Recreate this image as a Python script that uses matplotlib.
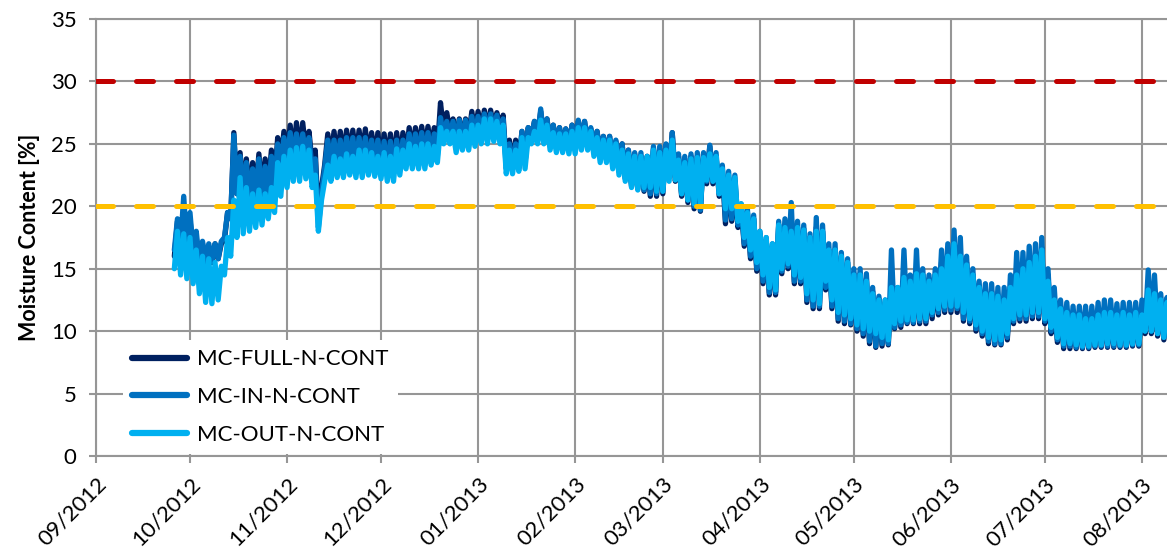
import pandas as pd
import matplotlib
matplotlib.use("Agg")
import matplotlib.pyplot as plt
import matplotlib.dates as mdates

plt.rcParams["font.family"] = ["Lato", "DejaVu Sans"]

# daily moisture content readings [%] (alternating night low / day high), from 26 Sep 2012
sample_start = "2012-09-26"

mc_full = [
    16.0, 18.8, 16.5, 20.0, 16.3, 19.0, 16.0, 17.5, 15.3, 17.0,
    15.3, 16.8, 15.5, 17.0, 15.8, 17.0, 17.3, 19.5, 19.0, 25.9,
    21.0, 24.3, 21.0, 23.8, 20.8, 23.5, 21.0, 24.2, 21.0, 23.8,
    21.5, 24.5, 22.0, 25.5, 23.5, 26.0, 24.0, 26.5, 24.0, 26.7,
    24.0, 26.7, 24.3, 26.0, 23.5, 24.5, 19.0, 21.5, 23.3, 25.8,
    23.8, 26.0, 23.8, 26.0, 23.8, 26.1, 24.0, 26.1, 23.8, 26.1,
    24.0, 26.2, 23.8, 25.9, 23.8, 25.9, 23.5, 25.8, 23.5, 25.8,
    23.3, 25.9, 23.5, 25.9, 24.0, 26.3, 24.3, 26.3, 24.5, 26.4,
    24.5, 26.4, 24.5, 26.3, 24.5, 28.3, 26.0, 27.5, 26.0, 27.0,
    25.3, 27.0, 25.3, 27.0, 25.5, 27.6, 25.8, 27.6, 26.0, 27.7,
    26.0, 27.7, 26.3, 27.5, 26.3, 27.3, 23.3, 25.3, 23.3, 25.3,
    23.3, 26.0, 23.5, 26.3, 25.5, 26.8, 25.5, 27.6, 25.3, 27.0,
    25.0, 26.5, 24.8, 26.3, 24.8, 26.2, 24.6, 26.5, 24.6, 26.8,
    25.0, 26.8, 25.0, 26.2, 24.5, 26.0, 24.0, 25.6, 24.0, 25.6,
    23.3, 25.2, 22.8, 25.0, 22.2, 24.5, 21.6, 24.2, 21.4, 24.0,
    21.2, 24.0, 20.8, 24.6, 20.8, 24.6, 21.0, 24.8, 22.3, 25.9,
    22.0, 24.0, 20.8, 23.8, 20.3, 24.0, 19.8, 24.0, 19.6, 24.2,
    21.8, 24.8, 21.8, 24.0, 20.8, 23.0, 18.6, 22.3, 18.8, 22.0,
    18.3, 20.0, 16.8, 19.5, 15.8, 19.0, 14.8, 17.8, 13.8, 17.3,
    12.9, 16.8, 12.9, 18.5, 14.6, 18.5, 15.0, 18.5, 13.8, 18.3,
    13.8, 18.2, 12.3, 17.5, 11.8, 18.3, 11.8, 18.0, 13.3, 16.5,
    11.8, 16.5, 10.8, 16.0, 10.6, 15.5, 10.5, 14.6, 10.0, 14.6,
    9.6, 14.2, 9.0, 13.2, 8.7, 12.6, 8.8, 12.3, 8.9, 13.8,
    10.2, 13.3, 10.3, 14.5, 10.6, 14.0, 10.6, 14.8, 10.6, 14.5,
    10.6, 14.2, 11.0, 14.5, 11.3, 15.5, 11.5, 16.2, 11.5, 16.5,
    11.5, 16.3, 10.8, 15.5, 10.6, 14.5, 10.0, 13.5, 9.6, 13.2,
    9.0, 13.2, 8.9, 12.8, 8.9, 12.7, 9.3, 13.5, 10.6, 14.7,
    10.8, 15.0, 10.8, 15.7, 11.0, 16.0, 11.0, 16.7, 10.6, 14.5,
    9.8, 12.7, 9.1, 12.0, 8.6, 11.7, 8.6, 11.5, 8.6, 11.5,
    8.6, 11.2, 8.6, 11.2, 8.7, 11.7, 8.7, 11.7, 8.7, 11.7,
    8.7, 11.5, 8.7, 11.7, 8.7, 11.7, 8.8, 11.5, 8.8, 11.5,
    9.8, 13.5, 9.8, 13.3, 9.6, 12.5, 9.3, 12.4, 9.2, 12.2,
]

mc_in = [
    16.5, 19.0, 17.0, 20.8, 16.8, 19.5, 16.5, 18.0, 15.5, 17.2,
    15.5, 17.0, 15.6, 17.0, 15.8, 17.2, 17.5, 19.5, 19.0, 25.7,
    21.0, 24.0, 21.0, 23.5, 20.5, 23.0, 20.8, 23.8, 20.5, 23.2,
    21.0, 24.0, 21.5, 25.0, 23.0, 25.5, 23.5, 25.9, 23.7, 25.8,
    23.7, 25.8, 24.0, 25.5, 23.0, 23.8, 18.3, 21.0, 23.0, 25.3,
    23.3, 25.3, 23.3, 25.3, 23.3, 25.5, 23.5, 25.5, 23.3, 25.5,
    23.5, 25.5, 23.3, 25.3, 23.3, 25.3, 23.0, 25.2, 23.0, 25.2,
    22.8, 25.3, 23.0, 25.3, 23.5, 25.8, 23.8, 25.8, 24.0, 25.9,
    24.0, 25.9, 24.0, 25.8, 24.0, 27.1, 25.5, 26.8, 25.5, 26.8,
    25.0, 26.9, 25.0, 26.9, 25.2, 27.2, 25.5, 27.2, 25.7, 27.4,
    25.7, 27.4, 26.0, 27.3, 26.0, 27.0, 23.0, 25.0, 23.0, 25.0,
    23.0, 26.0, 23.5, 26.3, 25.5, 26.8, 25.5, 27.8, 25.3, 27.0,
    25.0, 26.5, 24.8, 26.3, 24.8, 26.2, 24.6, 26.5, 24.6, 26.9,
    25.0, 26.8, 25.0, 26.3, 24.5, 26.0, 24.0, 25.6, 24.0, 25.6,
    23.5, 25.3, 23.0, 25.0, 22.3, 24.5, 21.8, 24.3, 21.6, 24.3,
    21.3, 24.0, 21.0, 24.8, 21.0, 24.8, 21.2, 25.0, 22.5, 25.9,
    22.3, 24.2, 21.0, 24.0, 20.5, 24.2, 20.0, 24.3, 19.7, 24.3,
    22.0, 24.9, 22.0, 24.3, 21.0, 23.3, 18.9, 22.8, 19.0, 22.5,
    18.5, 20.2, 17.0, 19.8, 16.0, 19.3, 15.0, 18.0, 14.0, 17.5,
    13.1, 17.0, 13.1, 18.8, 14.8, 19.0, 15.2, 20.3, 14.0, 18.8,
    14.0, 18.5, 12.5, 17.8, 12.0, 19.1, 12.0, 18.5, 13.5, 17.0,
    12.0, 17.0, 11.0, 16.3, 10.8, 15.8, 10.6, 15.0, 10.2, 15.0,
    9.8, 14.6, 9.2, 13.5, 8.8, 12.8, 9.0, 12.5, 9.0, 16.5,
    10.3, 13.5, 10.5, 16.5, 10.7, 14.5, 10.7, 16.5, 10.8, 15.0,
    10.8, 14.5, 11.3, 15.0, 11.5, 16.5, 11.7, 17.0, 11.7, 18.1,
    11.8, 17.5, 11.0, 16.0, 10.8, 15.0, 10.2, 14.0, 9.8, 13.8,
    9.2, 13.8, 9.0, 13.5, 9.0, 13.5, 9.5, 14.5, 10.8, 16.3,
    11.0, 16.3, 11.0, 16.8, 11.2, 17.0, 11.2, 17.5, 10.8, 15.0,
    10.0, 13.5, 9.3, 12.5, 8.8, 12.3, 8.8, 12.0, 8.7, 12.0,
    8.7, 12.0, 8.7, 12.0, 8.8, 12.3, 8.8, 12.5, 8.8, 12.5,
    8.8, 12.2, 8.8, 12.3, 8.8, 12.3, 8.9, 12.3, 8.9, 12.5,
    10.0, 14.9, 10.0, 14.5, 9.8, 13.0, 9.5, 12.7, 9.3, 12.5,
]

mc_out = [
    15.0, 18.0, 14.5, 17.8, 14.2, 17.5, 13.8, 16.5, 13.0, 16.0,
    12.3, 15.8, 12.2, 15.5, 12.5, 15.2, 14.5, 17.5, 16.0, 20.5,
    17.5, 22.3, 17.8, 21.5, 18.0, 21.0, 18.3, 21.3, 18.5, 21.0,
    19.0, 21.5, 19.5, 23.5, 20.8, 24.0, 21.5, 24.5, 22.0, 24.7,
    22.0, 24.8, 22.2, 24.5, 21.5, 22.5, 18.0, 20.5, 22.0, 23.3,
    22.0, 24.0, 22.3, 23.8, 22.3, 24.2, 22.5, 24.0, 22.3, 24.5,
    22.3, 24.5, 22.5, 24.3, 22.4, 24.0, 22.2, 24.3, 22.0, 24.0,
    22.0, 24.6, 22.5, 24.5, 23.0, 25.0, 23.0, 24.8, 23.0, 25.0,
    23.0, 25.0, 23.3, 24.8, 23.5, 26.3, 25.0, 26.0, 25.0, 26.0,
    24.3, 26.0, 24.5, 26.0, 24.5, 26.5, 24.8, 26.5, 25.0, 27.0,
    25.0, 27.0, 25.2, 26.8, 25.0, 26.5, 22.6, 24.5, 22.6, 24.5,
    22.8, 25.5, 23.0, 25.5, 25.0, 26.0, 25.0, 26.9, 25.0, 26.5,
    24.5, 25.9, 24.3, 25.8, 24.3, 25.8, 24.2, 26.0, 24.2, 26.3,
    24.5, 26.3, 24.5, 26.0, 24.0, 25.5, 23.5, 25.3, 23.5, 25.3,
    23.0, 25.0, 22.5, 24.5, 22.0, 24.2, 21.5, 24.0, 21.3, 24.0,
    21.5, 24.0, 21.5, 24.5, 21.2, 24.3, 21.2, 24.5, 22.0, 25.3,
    22.1, 23.7, 21.0, 23.5, 20.5, 23.8, 20.2, 23.9, 20.0, 23.9,
    22.1, 24.2, 22.0, 24.0, 21.0, 23.0, 19.8, 22.5, 19.8, 22.3,
    18.8, 20.2, 17.5, 19.5, 16.5, 19.0, 15.5, 18.0, 14.5, 17.5,
    13.5, 17.0, 13.3, 18.5, 15.0, 18.3, 15.4, 18.0, 14.5, 18.3,
    14.3, 18.1, 13.0, 17.5, 12.5, 18.0, 12.2, 18.0, 14.0, 16.5,
    12.5, 16.5, 11.5, 16.0, 11.3, 15.5, 11.0, 14.5, 10.5, 14.5,
    10.2, 14.0, 10.0, 13.0, 9.8, 12.5, 9.5, 12.5, 9.3, 13.5,
    10.6, 13.5, 10.8, 14.3, 10.9, 14.0, 10.9, 14.6, 11.0, 14.5,
    11.0, 14.0, 11.5, 14.5, 11.8, 15.0, 12.0, 16.0, 12.0, 17.0,
    12.0, 16.0, 11.5, 15.3, 11.0, 14.5, 10.5, 13.5, 10.0, 13.0,
    9.5, 13.0, 9.3, 12.8, 9.3, 12.5, 9.8, 13.5, 11.0, 14.5,
    11.3, 15.0, 11.3, 15.5, 11.5, 16.0, 11.5, 16.5, 11.0, 14.0,
    10.3, 12.5, 9.5, 11.8, 9.0, 11.5, 9.0, 11.3, 8.9, 11.3,
    8.8, 11.0, 8.8, 11.0, 8.9, 11.3, 8.9, 11.5, 9.0, 11.5,
    9.0, 11.3, 8.9, 11.5, 8.9, 11.3, 9.0, 11.5, 9.0, 11.3,
    10.0, 13.3, 10.0, 13.0, 9.8, 12.5, 9.5, 12.3, 9.3, 12.0,
]

series_names = ["MC-FULL-N-CONT", "MC-IN-N-CONT", "MC-OUT-N-CONT"]
series_colors = ["#002060", "#0070C0", "#00B0F0"]

upper_limit = 30
lower_limit = 20

month_ticks = pd.date_range("2012-09-01", "2013-08-01", freq="MS")
y_ticks = [0, 5, 10, 15, 20, 25, 30, 35]

times = pd.date_range(sample_start, periods=len(mc_out), freq="D")

fig = plt.figure(figsize=(11.67, 5.57), dpi=100)
ax = fig.add_axes([0.0823, 0.1813, 0.9177, 0.7846])

for values, name, color in zip([mc_full, mc_in, mc_out], series_names, series_colors):
    ax.plot(times, values, color=color, lw=3.8, label=name,
            solid_joinstyle="round", solid_capstyle="round", zorder=3)

# limit lines
ax.axhline(upper_limit, color="#C00000", lw=3.6, dashes=(3.4, 4.6),
           dash_capstyle="round", zorder=4)
ax.axhline(lower_limit, color="#FFC000", lw=3.6, dashes=(3.4, 4.6),
           dash_capstyle="round", zorder=4)

ax.set_xlim(pd.Timestamp("2012-09-01"), pd.Timestamp("2013-08-09"))
ax.set_ylim(0, 35)
ax.set_yticks(y_ticks)
ax.set_xticks(month_ticks)
ax.xaxis.set_major_formatter(mdates.DateFormatter("%m/%Y"))
plt.setp(ax.get_xticklabels(), rotation=45, ha="right", rotation_mode="anchor")

grid_gray = "#969696"
ax.grid(True, color=grid_gray, lw=1.5)
ax.set_axisbelow(True)
for side in ["left", "bottom", "top"]:
    ax.spines[side].set_color(grid_gray)
    ax.spines[side].set_linewidth(1.5)
ax.spines["right"].set_visible(False)
ax.tick_params(direction="out", length=5, width=1.5, color=grid_gray,
               labelsize=16, labelcolor="black")
ax.tick_params(axis="y", pad=9)
ax.tick_params(axis="x", pad=8)

ax.set_ylabel("Moisture Content [%]", fontsize=15.5, fontweight="bold", labelpad=8)

leg = ax.legend(loc="lower left", bbox_to_anchor=(0.025, 0.005), borderaxespad=0,
                frameon=True, facecolor="white", edgecolor="none", framealpha=1,
                fontsize=16, handlelength=2.5, handletextpad=0.45,
                labelspacing=0.8, borderpad=0.4)
for line in leg.get_lines():
    line.set_linewidth(4.5)
leg.set_zorder(5)

fig.savefig("out.png", dpi=100)
